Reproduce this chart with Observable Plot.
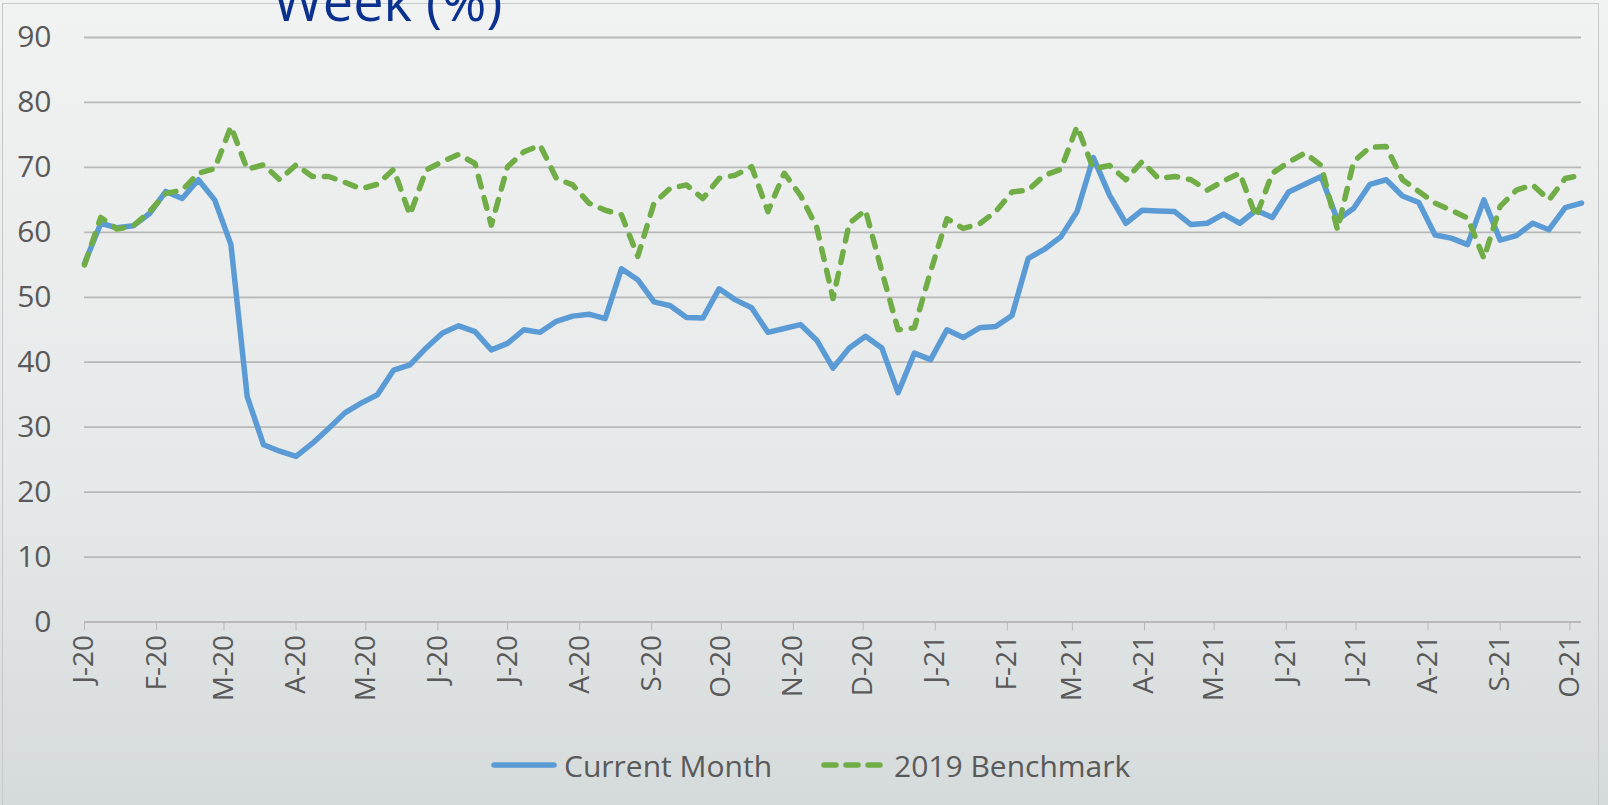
<!DOCTYPE html>
<html>
<head>
<meta charset="utf-8">
<script src="https://cdn.jsdelivr.net/npm/d3@7"></script>
<script src="https://cdn.jsdelivr.net/npm/@observablehq/plot@0.6"></script>
<style>
html, body { margin: 0; padding: 0; }
body {
  width: 1608px; height: 805px; overflow: hidden; position: relative;
  background: linear-gradient(to bottom, #f1f2f2 0%, #e6e9e9 60%, #d5dada 100%);
  font-family: "Open Sans", sans-serif;
}
#frame { position: absolute; left: 2px; top: 3px; width: 1595px; height: 830px; border: 1.5px solid #c6c9c9; }
#title { position: absolute; left: 273px; top: -27px; font-size: 54px; line-height: 54px; color: #0b318f; white-space: nowrap; }
#chart { position: absolute; left: 0; top: 0; }
.leg { position: absolute; top: 745px; height: 40px; display: flex; align-items: center; font-size: 30px; color: #595959; white-space: nowrap; }
.leg svg { margin-right: 6px; }
</style>
</head>
<body>
<div id="frame"></div>
<div id="chart"></div>
<div id="title">Week (%)</div>
<div id="legend"></div>
<script>
// ---- data ----
const startDate = "2020-01-01"; // weekly observations
const seriesNames = ["Current Month", "2019 Benchmark"];
const currentMonth = [
  55.2, 61.4, 60.7, 61.0, 62.9, 66.3, 65.2, 68.1, 65.0, 58.1,
  34.7, 27.3, 26.3, 25.5, 27.5, 29.8, 32.2, 33.7, 35.0, 38.8,
  39.6, 42.2, 44.5, 45.6, 44.7, 41.9, 42.9, 45.0, 44.6, 46.3,
  47.1, 47.4, 46.7, 54.4, 52.7, 49.3, 48.7, 46.9, 46.8, 51.3,
  49.6, 48.4, 44.6, 45.2, 45.8, 43.4, 39.1, 42.2, 44.0, 42.2,
  35.3, 41.4, 40.4, 45.0, 43.8, 45.3, 45.5, 47.2, 56.0, 57.4,
  59.3, 63.2, 71.5, 65.7, 61.4, 63.4, 63.3, 63.2, 61.2, 61.4,
  62.8, 61.4, 63.4, 62.3, 66.2, 67.4, 68.6, 61.9, 63.7, 67.4,
  68.1, 65.6, 64.6, 59.6, 59.1, 58.1, 65.0, 58.8, 59.5, 61.4,
  60.4, 63.8, 64.5
];
const benchmark2019 = [
  55.0, 62.3, 60.5, 61.0, 63.2, 66.0, 66.5, 69.1, 69.8, 76.3,
  69.7, 70.4, 68.1, 70.4, 68.6, 68.6, 67.7, 66.7, 67.4, 69.7,
  62.7, 69.6, 70.9, 72.0, 70.6, 61.1, 70.1, 72.4, 73.4, 68.3,
  67.3, 64.5, 63.4, 62.7, 56.3, 64.5, 66.8, 67.3, 65.2, 68.3,
  68.8, 70.1, 63.2, 69.1, 65.7, 60.8, 49.8, 61.4, 63.4, 54.0,
  45.0, 45.3, 54.0, 62.1, 60.6, 61.3, 63.2, 66.2, 66.5, 68.8,
  69.7, 76.3, 69.8, 70.3, 68.1, 70.9, 68.3, 68.6, 68.1, 66.5,
  67.9, 69.1, 62.4, 69.1, 70.8, 72.2, 70.3, 60.4, 70.9, 73.1,
  73.2, 68.1, 66.3, 64.5, 63.4, 62.2, 56.0, 64.0, 66.5, 67.3,
  65.0, 68.3, 68.8
];
const yTicks = [0, 10, 20, 30, 40, 50, 60, 70, 80, 90];
const tickLabels = ["J-20","F-20","M-20","A-20","M-20","J-20","J-20","A-20","S-20","O-20","N-20","D-20",
                    "J-21","F-21","M-21","A-21","M-21","J-21","J-21","A-21","S-21","O-21"];
const colors = ["#5b9bd5", "#70ad47"];

// ---- build ----
const start = new Date(startDate + "T00:00:00Z");
const rows = currentMonth.map((v, i) => ({
  date: d3.utcDay.offset(start, 7 * i),
  current: v,
  bench: benchmark2019[i]
}));
const lastDate = rows[rows.length - 1].date;
const monthTicks = tickLabels.map((_, i) => d3.utcMonth.offset(start, i));
const labelOf = new Map(monthTicks.map((d, i) => [+d, tickLabels[i]]));

const chart = Plot.plot({
  width: 1608,
  height: 720,
  marginLeft: 84,
  marginRight: 27,
  marginTop: 37,
  marginBottom: 98.5,
  style: { background: "transparent", color: "#595959", fontFamily: "'Open Sans', sans-serif", overflow: "visible" },
  x: { type: "utc", domain: [start, lastDate] },
  y: { domain: [0, 90] },
  marks: [
    Plot.ruleY(yTicks, { stroke: "#b8b8b8", strokeWidth: 1.8 }),
    Plot.axisY({ ticks: yTicks, tickSize: 0, tickPadding: 33, fontSize: 30, fill: "#595959" }),
    Plot.axisX({ ticks: monthTicks, tickSize: 9, tickPadding: 4, tickRotate: -90, fontSize: 28,
                 stroke: "#b8b8b8", fill: "#595959", tickFormat: d => labelOf.get(+d) }),
    Plot.lineY(rows, { x: "date", y: "current", stroke: colors[0], strokeWidth: 5.5,
                       strokeLinejoin: "round", strokeLinecap: "round" }),
    Plot.lineY(rows, { x: "date", y: "bench", stroke: colors[1], strokeWidth: 5.5,
                       strokeDasharray: "11,11", strokeLinejoin: "round", strokeLinecap: "round" })
  ]
});
document.getElementById("chart").appendChild(chart);

// ---- legend ----
const legend = document.getElementById("legend");
const legPos = [490, 820];
seriesNames.forEach((name, i) => {
  const item = document.createElement("div");
  item.className = "leg";
  item.style.left = legPos[i] + "px";
  const dash = i === 1 ? 'stroke-dasharray="12,10"' : "";
  item.innerHTML = `<svg width="68" height="12"><line x1="4" y1="6" x2="64" y2="6" stroke="${colors[i]}" stroke-width="5.5" stroke-linecap="round" ${dash}/></svg><span>${name}</span>`;
  legend.appendChild(item);
});
</script>
</body>
</html>
